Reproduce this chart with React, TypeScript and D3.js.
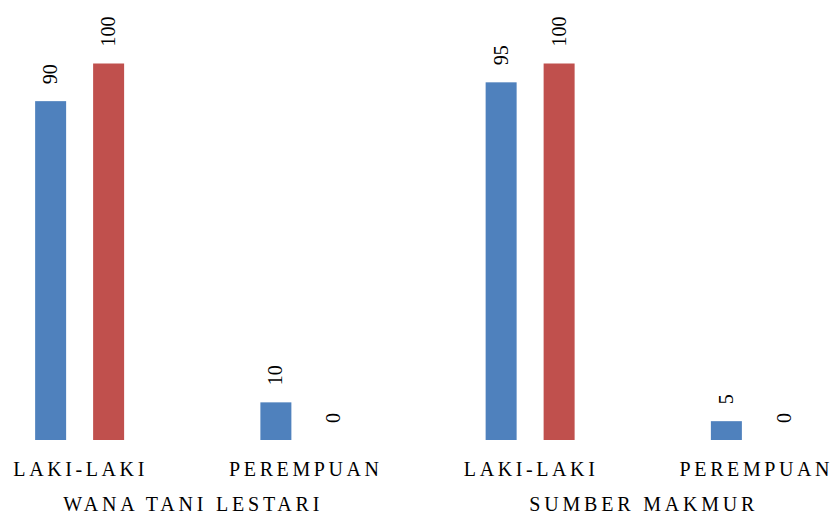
import React from 'react';
import * as d3 from "d3";

// groups along the bottom, categories inside each group
const groups = ["WANA TANI LESTARI", "SUMBER MAKMUR"];
const categories = ["LAKI-LAKI", "PEREMPUAN"];
const seriesNames = ["Series1", "Series2"];
const seriesColors = ["#4F81BD", "#C0504D"];

// values per group, in category order
const series1Values = [[90, 10], [95, 5]];
const series2Values = [[100, 0], [100, 0]];

const FONT = "Liberation Serif";

const width = 832;
const height = 516;
const baseY = 440;
const topY = 63.5;

// the plot runs a bit past both edges of the picture
const x0 = d3.scaleBand<string>()
    .domain(groups)
    .range([-33, 868]);

const x1 = d3.scaleBand<string>()
    .domain(categories)
    .range([0, x0.bandwidth()]);

const x2 = d3.scaleBand<string>()
    .domain(seriesNames)
    .range([0, x1.bandwidth()])
    .paddingInner(0.4655)
    .paddingOuter(1.175);

const y = d3.scaleLinear()
    .domain([0, 100])
    .range([baseY, topY]);

interface IRow {group: string, cat: string, series: string, value: number, color: string}

const rows: IRow[] = [];
groups.forEach((g, gi) => {
    categories.forEach((c, ci) => {
        rows.push({group: g, cat: c, series: seriesNames[0], value: series1Values[gi][ci], color: seriesColors[0]});
        rows.push({group: g, cat: c, series: seriesNames[1], value: series2Values[gi][ci], color: seriesColors[1]});
    });
});

const barX = (d: IRow) => (x0(d.group) as number) + (x1(d.cat) as number) + (x2(d.series) as number);

const textStyle = {fontFamily: FONT, fontSize: 20, fill: "#000"};

export default function App() {
    return (
        <svg width={width} height={height}
             style={{position: "absolute", left: 0, top: 0, display: "block", background: "#fff"}}>
            {/* bars */}
            <g>
                {rows.map((d, i) => (
                    <rect key={i}
                          x={barX(d)}
                          y={y(d.value)}
                          width={x2.bandwidth()}
                          height={baseY - y(d.value)}
                          fill={d.color}/>
                ))}
            </g>
            {/* value labels, turned on their side */}
            <g>
                {rows.map((d, i) => (
                    <text key={i}
                          transform={"translate(" + (barX(d) + x2.bandwidth() / 2 + 6.5) + "," + (y(d.value) - 17) + ") rotate(-90)"}
                          textAnchor="start"
                          style={textStyle}>
                        {d.value}
                    </text>
                ))}
            </g>
            {/* category labels */}
            <g>
                {groups.map(g => categories.map(c => (
                    <text key={g + c}
                          x={(x0(g) as number) + (x1(c) as number) + x1.bandwidth() / 2 + 1}
                          y={476}
                          textAnchor="middle"
                          style={{...textStyle, letterSpacing: 3.6}}>
                        {c}
                    </text>
                )))}
            </g>
            {/* group labels */}
            <g>
                {groups.map(g => (
                    <text key={g}
                          x={(x0(g) as number) + x0.bandwidth() / 2 + 1}
                          y={511}
                          textAnchor="middle"
                          style={{...textStyle, letterSpacing: 3.8}}>
                        {g}
                    </text>
                ))}
            </g>
        </svg>
    );
}
